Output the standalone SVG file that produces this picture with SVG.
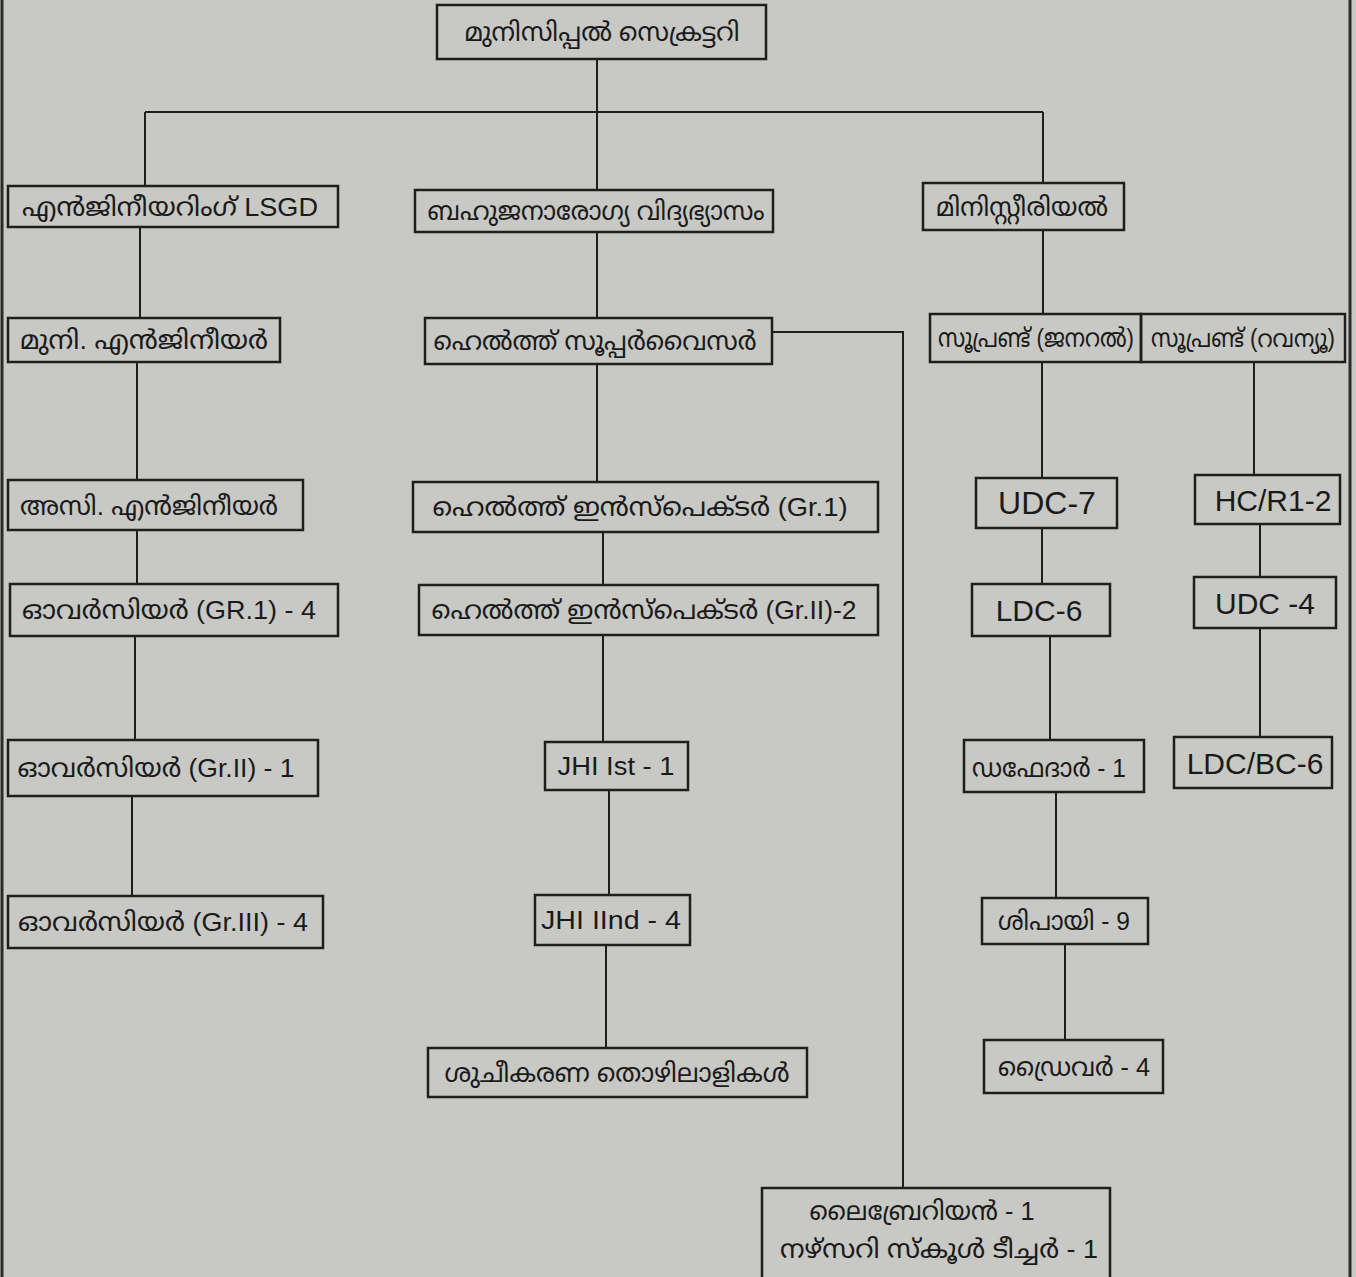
<svg xmlns="http://www.w3.org/2000/svg" width="1356" height="1277" viewBox="0 0 1356 1277">
<style>
.bg{fill:#c8c8c5}
.box{fill:none;stroke:#1e1e1e;stroke-width:2.5}
.ln{fill:none;stroke:#1e1e1e;stroke-width:2}
.frame{stroke:#2a2a2a;stroke-width:3}
text{font-family:"Liberation Sans","Noto Sans Malayalam","Noto Sans",sans-serif;fill:#1a1a1a;text-anchor:middle;dominant-baseline:central}
.ml{font-size:26px}
.lat{font-size:30px}
</style>
<rect class="bg" x="0" y="0" width="1356" height="1277"/>
<g id="frame">
<line class="frame" x1="2" y1="0" x2="2" y2="1277"/>
<line class="frame" x1="1350" y1="0" x2="1350" y2="1277"/>
</g>
<g id="connectors">
<path class="ln" d="M597 59V190"/>
<path class="ln" d="M145 112H1043"/>
<path class="ln" d="M145 112V186"/>
<path class="ln" d="M1043 112V183"/>
<path class="ln" d="M140 227V318"/>
<path class="ln" d="M597 232V318"/>
<path class="ln" d="M1043 230V314"/>
<path class="ln" d="M137 362V480"/>
<path class="ln" d="M597 364V482"/>
<path class="ln" d="M772 332H903V1188"/>
<path class="ln" d="M1042 362V478"/>
<path class="ln" d="M1254 362V475"/>
<path class="ln" d="M137 530V584"/>
<path class="ln" d="M603 532V585"/>
<path class="ln" d="M1042 528V584"/>
<path class="ln" d="M1260 524V577"/>
<path class="ln" d="M135 636V740"/>
<path class="ln" d="M603 635V742"/>
<path class="ln" d="M1050 636V740"/>
<path class="ln" d="M1260 628V737"/>
<path class="ln" d="M132 796V896"/>
<path class="ln" d="M609 790V895"/>
<path class="ln" d="M1056 792V898"/>
<path class="ln" d="M606 945V1048"/>
<path class="ln" d="M1065 944V1040"/>
</g>
<g id="secretary"><rect class="box" x="437" y="5" width="329" height="54"/><text class="ml" x="602" y="32" textLength="275" lengthAdjust="spacingAndGlyphs">മുനിസിപ്പൽ സെക്രട്ടറി</text></g>
<g id="engineering"><rect class="box" x="8" y="186" width="330" height="41"/><text class="ml" x="170" y="207" textLength="296" lengthAdjust="spacingAndGlyphs">എൻജിനീയറിംഗ് LSGD</text></g>
<g id="health-edu"><rect class="box" x="415" y="190" width="358" height="42"/><text class="ml" x="596" y="211" textLength="337" lengthAdjust="spacingAndGlyphs">ബഹുജനാരോഗ്യ വിദ്യഭ്യാസം</text></g>
<g id="ministerial"><rect class="box" x="923" y="183" width="201" height="47"/><text class="ml" x="1022" y="207" textLength="172" lengthAdjust="spacingAndGlyphs">മിനിസ്റ്റീരിയൽ</text></g>
<g id="muni-engineer"><rect class="box" x="8" y="318" width="272" height="44"/><text class="ml" x="144" y="340" textLength="248" lengthAdjust="spacingAndGlyphs">മുനി. എൻജിനീയർ</text></g>
<g id="health-supervisor"><rect class="box" x="425" y="318" width="347" height="46"/><text class="ml" x="595" y="341" textLength="323" lengthAdjust="spacingAndGlyphs">ഹെൽത്ത് സൂപ്പർവൈസർ</text></g>
<g id="supdt-general"><rect class="box" x="930" y="314" width="211" height="48"/><text class="ml" x="1036" y="338" textLength="196" lengthAdjust="spacingAndGlyphs">സൂപ്രണ്ട് (ജനറൽ)</text></g>
<g id="supdt-revenue"><rect class="box" x="1141" y="314" width="204" height="48"/><text class="ml" x="1243" y="338" style="font-size:25px" textLength="184" lengthAdjust="spacingAndGlyphs">സൂപ്രണ്ട് (റവന്യൂ)</text></g>
<g id="asst-engineer"><rect class="box" x="8" y="480" width="295" height="50"/><text class="ml" x="149" y="506" textLength="258" lengthAdjust="spacingAndGlyphs">അസി. എൻജിനീയർ</text></g>
<g id="hi-gr1"><rect class="box" x="413" y="482" width="465" height="50"/><text class="ml" x="640" y="507" textLength="415" lengthAdjust="spacingAndGlyphs">ഹെൽത്ത്  ഇൻസ്പെക്ടർ (Gr.1)</text></g>
<g id="udc-7"><rect class="box" x="976" y="478" width="141" height="50"/><text class="lat" x="1047" y="503" style="font-size:32px">UDC-7</text></g>
<g id="hc-r1"><rect class="box" x="1195" y="475" width="145" height="49"/><text class="lat" x="1273" y="500">HC/R1-2</text></g>
<g id="overseer-gr1"><rect class="box" x="10" y="584" width="328" height="52"/><text class="ml" x="169" y="610" textLength="294" lengthAdjust="spacingAndGlyphs">ഓവർസിയർ (GR.1) - 4</text></g>
<g id="hi-gr2"><rect class="box" x="419" y="585" width="459" height="50"/><text class="ml" x="644" y="610" textLength="425" lengthAdjust="spacingAndGlyphs">ഹെൽത്ത് ഇൻസ്പെക്ടർ (Gr.II)-2</text></g>
<g id="ldc-6"><rect class="box" x="972" y="584" width="138" height="52"/><text class="lat" x="1039" y="610">LDC-6</text></g>
<g id="udc-4"><rect class="box" x="1194" y="577" width="142" height="51"/><text class="lat" x="1265" y="603">UDC -4</text></g>
<g id="overseer-gr2"><rect class="box" x="8" y="740" width="310" height="56"/><text class="ml" x="156" y="768" textLength="277" lengthAdjust="spacingAndGlyphs">ഓവർസിയർ (Gr.II) - 1</text></g>
<g id="jhi-1"><rect class="box" x="545" y="742" width="143" height="48"/><text class="ml" x="616" y="766" textLength="117" lengthAdjust="spacingAndGlyphs">JHI Ist - 1</text></g>
<g id="dafedar"><rect class="box" x="964" y="740" width="180" height="52"/><text class="ml" x="1049" y="768" textLength="154" lengthAdjust="spacingAndGlyphs">ഡഫേദാർ - 1</text></g>
<g id="ldc-bc"><rect class="box" x="1174" y="737" width="158" height="51"/><text class="lat" x="1255" y="763">LDC/BC-6</text></g>
<g id="overseer-gr3"><rect class="box" x="8" y="896" width="315" height="52"/><text class="ml" x="163" y="922" textLength="290" lengthAdjust="spacingAndGlyphs">ഓവർസിയർ (Gr.III) - 4</text></g>
<g id="jhi-2"><rect class="box" x="535" y="895" width="155" height="50"/><text class="ml" x="611" y="920" textLength="140" lengthAdjust="spacingAndGlyphs">JHI IInd - 4</text></g>
<g id="sipai"><rect class="box" x="982" y="898" width="166" height="46"/><text class="ml" x="1064" y="921" textLength="132" lengthAdjust="spacingAndGlyphs">ശിപായി - 9</text></g>
<g id="sanitation"><rect class="box" x="428" y="1048" width="379" height="49"/><text class="ml" x="617" y="1073" textLength="345" lengthAdjust="spacingAndGlyphs">ശുചീകരണ  തൊഴിലാളികൾ</text></g>
<g id="driver"><rect class="box" x="984" y="1040" width="179" height="53"/><text class="ml" x="1074" y="1067" textLength="152" lengthAdjust="spacingAndGlyphs">ഡ്രൈവർ - 4</text></g>
<g id="librarian"><rect class="box" x="762" y="1188" width="348" height="100"/><text class="ml" x="922" y="1211" textLength="225" lengthAdjust="spacingAndGlyphs">ലൈബ്രേറിയൻ - 1</text><text class="ml" x="939" y="1249" textLength="318" lengthAdjust="spacingAndGlyphs">നഴ്സറി സ്കൂൾ ടീച്ചർ  - 1</text></g>
</svg>
